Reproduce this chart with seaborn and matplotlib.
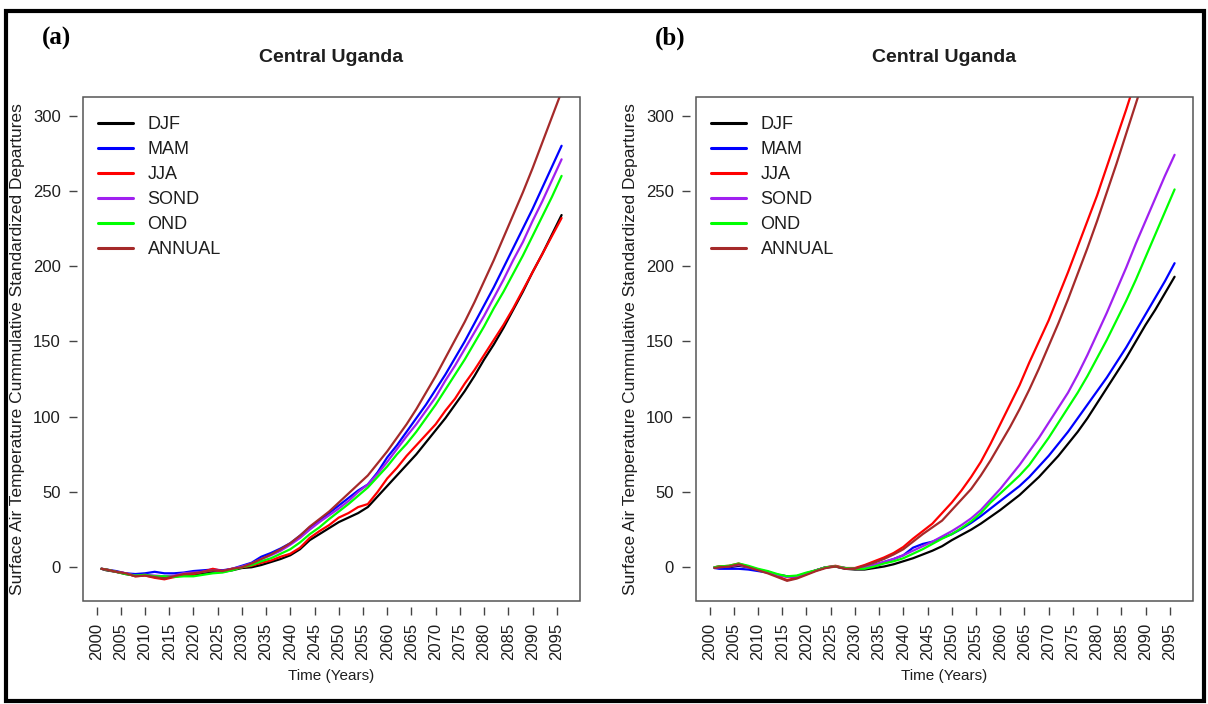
import numpy as np
import pandas as pd
import matplotlib
matplotlib.use("Agg")
import matplotlib.pyplot as plt
from matplotlib.patches import Rectangle
from matplotlib.lines import Line2D
import seaborn as sns

nan = np.nan

YEARS = [2001] + list(range(2002, 2097, 2))
SEASONS = ["DJF", "MAM", "JJA", "SOND", "OND", "ANNUAL"]
COLORS = ["#000000", "#0000FF", "#FF0000", "#A020F0", "#00FF00", "#A52A2A"]
XTICKS = list(range(2000, 2100, 5))
YTICKS = [0, 50, 100, 150, 200, 250, 300]
TITLE = "Central Uganda"
XLABEL = "Time (Years)"
YLABEL = "Surface Air Temperature Cummulative Standardized Departures"

# ---- panel (a) ----
A_DJF = [-1, -2, -3, -4.5, -5.5, -5, -6.5, -7, -6, -5, -5, -4, -3, -3, -2, -0.5, 0, 1.5, 3.5, 5.5,
         8, 12, 18, 22, 26, 30, 33, 36, 40, 47, 54, 61, 68, 75, 83, 91, 99, 108, 117, 127,
         138, 148, 159, 171, 183, 196, 208, 221, 234]
A_MAM = [-1, -1.5, -2.5, -4, -4.5, -4, -3, -4, -4, -3.5, -2.5, -2, -1.5, -2, -1, 1, 3, 7, 9.5, 12.5,
         16, 21, 26.5, 31, 36, 41, 46, 51, 55, 63, 73, 81, 90, 99, 108, 118, 128, 139, 150, 162,
         174, 186, 199, 212, 225, 238, 252, 266, 280]
A_JJA = [-1, -1.5, -3, -4, -6, -5.5, -7, -8, -6.5, -5, -4.5, -3, -1, -2.5, -1, 0, 1, 3, 4.5, 7,
         9, 13, 19.5, 24, 28, 33, 36, 40, 42, 50, 59, 66, 74, 81, 88, 95, 104, 112, 122, 131,
         141, 151, 161, 172, 184, 196, 208, 220, 232]
A_SOND = [-1, -1.5, -3, -4, -5.5, -5, -5.5, -6, -5.5, -4, -3.5, -3, -2, -2.5, -1, 0.5, 2.5, 5.5, 8, 11,
          15, 19.5, 25, 30, 34.5, 39, 44, 50, 55, 62, 70, 78.5, 87, 95, 104, 113, 124, 134, 145, 156,
          167, 179, 191, 204, 216, 230, 243, 257, 271]
A_OND = [-1, -1.5, -3, -4.5, -5.5, -5, -6, -6, -6.5, -6, -6, -5, -4, -3.5, -2, 0, 1.5, 4, 6, 9,
         12, 16.5, 22, 26.5, 32, 37, 42, 47.5, 53, 60, 67, 75, 82, 90, 99, 108, 118, 128, 138, 149,
         160, 172, 183, 195, 207, 220, 233, 246, 260]
A_ANN = [-1, -1.5, -3, -4, -6, -5.5, -6.5, -7.5, -6, -4.5, -4, -3, -2, -2.5, -1, 0, 2.5, 5.5, 8.5, 12,
         16, 21, 27, 32, 37, 43, 49, 55, 61, 69, 77, 86, 95, 105, 116, 127, 139, 151, 163, 176,
         190, 204, 219, 234, 249, 265, 282, 299, 316]

# ---- panel (b) ----
B_DJF = [0, 0.5, 0, 1, 0, -1.5, -3, -5, -6, -6, -4, -2, 0, 0.5, -1, -1.5, -1.5, -0.5, 0.5, 2,
         4, 6, 8.5, 11, 14, 18, 21.5, 25, 29, 33.5, 38, 43, 48, 54, 60, 67, 74, 82, 90, 99,
         109, 119, 129, 139, 150, 161, 171, 182, 193]
B_MAM = [-0.5, -1, -1, -1, -1.5, -2.5, -3.5, -5, -6, -6.5, -4.5, -2, 0, 0.5, -0.5, -1, 0, 1.5, 3.5, 5.5,
         8, 13, 15.5, 17, 19.5, 22, 25.5, 29.5, 34, 39, 44, 49, 54, 60, 67, 74, 82, 90, 99, 108,
         117, 126, 136, 146, 157, 168, 179, 190, 202]
B_JJA = [0, 0.5, 1, 2.5, 0.5, -1.5, -3.5, -6, -8.5, -7, -4.5, -2, 0, 1, -0.5, -0.5, 1.5, 4, 6.5, 9.5,
         13.5, 19, 24, 29, 36, 43, 51, 60, 70, 82, 95, 108, 121, 136, 150, 164, 180, 196, 213, 230,
         247, 266, 285, 304, 324, nan, nan, nan, nan]
B_SOND = [0, 0, 0.5, 1.5, 0, -1.5, -3, -5, -6.5, -6, -4, -2, 0, 0.5, -0.5, -1, 0, 1.5, 3.5, 5.5,
          8, 11, 14, 17, 20.5, 24, 28, 32.5, 38, 45, 52, 60, 68, 77, 86, 96, 106, 116, 128, 141,
          155, 169, 184, 199, 215, 230, 245, 260, 274]
B_OND = [0, 0.5, 1, 2.5, 1, -1, -2.5, -4.5, -6, -5.5, -3.5, -2, 0, 0.5, -0.5, -1, -1, 0.5, 2.5, 4,
         6, 9, 12, 15.5, 19, 22, 26, 30.5, 36, 43, 49, 55, 61, 68, 77, 86, 96, 106, 116, 127,
         139, 151, 164, 177, 191, 206, 221, 236, 251]
B_ANN = [-0.5, 0, 0.5, 2, 0, -2, -4, -6.5, -9, -7.5, -5, -2.5, -0.5, 0.5, -1, -1, 1, 3, 5.5, 8.5,
         12, 17, 22, 26.5, 31, 38, 45, 52, 61, 71, 82, 93, 105, 118, 132, 147, 162, 178, 195, 212,
         230, 249, 268, 288, 308, 328, nan, nan, nan]

PANELS = [
    ("(a)", [A_DJF, A_MAM, A_JJA, A_SOND, A_OND, A_ANN]),
    ("(b)", [B_DJF, B_MAM, B_JJA, B_SOND, B_OND, B_ANN]),
]

sns.set_theme(style="white")
plt.rcParams["font.family"] = ["Liberation Sans", "DejaVu Sans"]
plt.rcParams["axes.unicode_minus"] = False

W, H = 1208, 704
fig = plt.figure(figsize=(W / 100, H / 100), dpi=100)
fig.patch.set_facecolor("white")

def rect(l, t, r, b):
    return [l / W, 1 - b / H, (r - l) / W, (b - t) / H]

BOXES = [(83, 97, 580, 601), (696, 97, 1193, 601)]
TXT = "#1e1e1e"
palette = dict(zip(SEASONS, COLORS))

for (tag, series), box in zip(PANELS, BOXES):
    ax = fig.add_axes(rect(*box))
    ax.set_facecolor("white")
    # detached R-style axes: offset invisible spines first (this resets ticks)
    for s in ["top", "right"]:
        ax.spines[s].set_visible(False)
    for s in ["bottom", "left"]:
        ax.spines[s].set_position(("outward", 4))
        ax.spines[s].set_color("none")

    df = pd.DataFrame({
        "Year": YEARS * len(SEASONS),
        "Value": sum([list(s) for s in series], []),
        "Season": sum([[n] * len(YEARS) for n in SEASONS], []),
    })
    sns.lineplot(data=df, x="Year", y="Value", hue="Season", hue_order=SEASONS,
                 palette=palette, ax=ax, legend=False, errorbar=None, linewidth=1.6)
    ax.set_xlim(1997.2, 2099.8)
    ax.set_ylim(-22.4, 312.4)
    ax.set_xticks(XTICKS)
    ax.set_xticklabels([str(x) for x in XTICKS])
    ax.set_yticks(YTICKS)
    ax.set_yticklabels([str(y) for y in YTICKS])
    ax.set_xlabel("")
    ax.set_ylabel("")
    ax.add_patch(Rectangle((0, 0), 1, 1, transform=ax.transAxes, fill=False,
                           edgecolor="#555555", lw=1.1, clip_on=False, zorder=5))
    ax.tick_params(axis="both", which="major", bottom=True, left=True, length=6, width=1.0,
                   color="#444444", direction="out", labelsize=12, labelcolor=TXT, pad=6)
    ax.tick_params(axis="x", labelrotation=90)
    handles = [Line2D([0], [0], color=c, lw=2.2) for c in COLORS]
    ax.legend(handles, SEASONS, loc="upper left", bbox_to_anchor=(0.03, 0.962),
              frameon=False, fontsize=13, handlelength=1.95, handletextpad=0.8,
              labelspacing=0.44, borderaxespad=0, borderpad=0, labelcolor=TXT)

    l, t, r, b = box
    cx = (l + r) / 2
    fig.text(cx / W, 1 - 57 / H, TITLE, ha="center", va="center", fontsize=14,
             fontweight="bold", color=TXT)
    fig.text(cx / W, 1 - 676 / H, XLABEL, ha="center", va="center", fontsize=11, color=TXT)
    fig.text((l - 65) / W, 1 - 349 / H, YLABEL, ha="center", va="center", rotation=90,
             fontsize=12.5, color=TXT)
    fig.text((l - 41) / W, 1 - 38 / H, tag, ha="left", va="center", fontsize=18,
             fontweight="bold", family=["Liberation Serif", "DejaVu Serif"], color="black")

fig.add_artist(Rectangle((6 / W, 1 - 701 / H), (1204 - 6) / W, (701 - 11) / H,
                         transform=fig.transFigure, fill=False, edgecolor="black", lw=3))

fig.savefig("out.png", dpi=100, facecolor="white")
